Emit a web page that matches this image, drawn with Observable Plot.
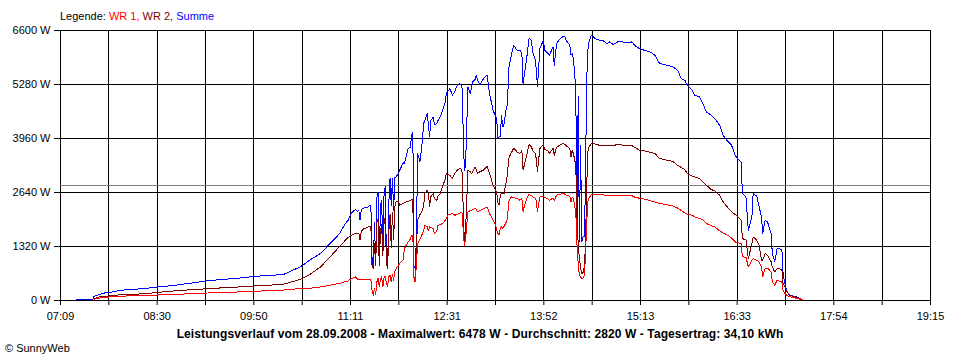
<!DOCTYPE html>
<html><head><meta charset="utf-8">
<script src="https://cdn.jsdelivr.net/npm/d3@7"></script>
<script src="https://cdn.jsdelivr.net/npm/@observablehq/plot@0.6"></script>
<style>
body{margin:0;background:#fff;}
#wrap{position:relative;width:960px;height:360px;font-family:"Liberation Sans",Arial,sans-serif;font-size:11px;color:#000;}
.ov{position:absolute;white-space:nowrap;line-height:13px;}
#chart{position:absolute;left:0;top:0;}
</style></head><body>
<div id="wrap">
<div id="chart"></div>
<div class="ov" style="left:60px;top:10px">Legende: <span style="color:#ff0000">WR 1,</span> <span style="color:#800000">WR 2,</span> <span style="color:#0000ff">Summe</span></div>
<div class="ov" id="title" style="left:0;width:960px;text-align:center;top:328px;font-weight:bold;font-size:12px;letter-spacing:0.1px"></div>
<div class="ov" style="left:5px;top:342px">© SunnyWeb</div>
</div>
<script>
// time of day in minutes since midnight
const minuteOfDay = [442,456,457,462,466,471,479,496,504,521,529,554,579,587,596,615,629,637,646,654,662,666,669,672,675,677,678,679,680,682,685,687,688,689,690,691,692,693,694,695,696,697,698,699,700,701,702,703,704,705,706,707,708,709,711,712,715,716,719,721,722,723,724,725,726,727,729,731,732,733,735,736,737,738,740,741,743,744,746,748,750,751,752,754,756,758,760,762,764,766,767,769,771,772,773,775,776,777,779,782,785,787,790,792,793,794,795,796,797,798,799,801,802,803,805,807,808,810,812,813,814,815,816,818,820,822,823,825,826,827,829,832,833,836,837,840,841,843,846,848,850,851,854,855,856,857,859,860,861,862,863,864,865,866,867,868,869,870,872,876,879,882,885,887,890,894,898,902,906,908,912,916,921,925,929,935,940,944,947,950,952,956,958,962,965,968,972,975,979,982,985,989,992,994,997,998,1001,1003,1006,1007,1010,1012,1014,1015,1017,1019,1022,1023,1025,1027,1031,1032,1034,1035,1037,1040,1043,1048];
const wr1 = [null,null,30,60,75,90,105,122,128,146,155,186,210,222,232,255,293,300,330,374,420,455,480,540,577,520,515,513,515,515,513,513,500,250,130,300,150,450,550,350,500,580,330,560,600,400,350,580,620,450,640,500,700,782,863,900,1000,1271,1433,1500,1596,1600,540,450,900,1393,1500,1637,1700,1840,1800,1700,1800,1780,1760,1637,1700,1840,1860,1882,1962,2000,2085,2100,2126,2085,2100,2130,2166,1352,1500,2166,2200,2207,2220,2248,2230,2166,2200,2248,2288,2126,1962,1850,1718,1640,1596,1760,1800,1760,1800,1921,2000,2410,2532,2520,2510,2493,2451,2480,2493,2166,2300,2493,2590,2560,2540,2500,2451,2166,2532,2550,2520,2480,2451,2500,2440,2573,2600,2614,2600,2573,2550,2400,2532,2493,2166,1352,900,618,580,537,550,600,1026,1840,2410,2500,2590,2600,2580,2580,2573,2573,2570,2573,2573,2573,2560,2530,2500,2480,2440,2410,2371,2340,2310,2260,2200,2142,2110,2085,2050,2004,1980,1882,1830,1800,1702,1650,1610,1530,1433,1410,1393,1066,1060,821,985,1020,985,940,820,577,782,790,700,455,374,496,455,252,150,130,100,73,50,20];
const wr2 = [null,null,50,90,105,112,140,161,180,227,245,293,333,350,360,398,513,635,821,1066,1327,1450,1540,1600,1637,1650,1650,1474,1700,1750,1784,1816,1816,820,790,1400,850,1900,2000,850,1700,1850,1100,1900,2050,900,800,1700,2100,1300,2150,1500,2300,2410,2410,2330,2370,2400,2420,2450,2468,2460,560,540,1300,1962,2100,2207,2300,2614,2695,2600,2300,2532,2614,2500,2450,2550,2614,2818,2950,3104,3080,3060,2981,3100,3185,3226,3200,1433,1700,3185,3150,3104,3150,3266,3200,3104,3150,3185,3283,3104,2818,2700,2655,2400,2329,2550,2650,2614,2600,2899,3104,3471,3600,3715,3700,3632,3593,3620,3673,3185,3300,3551,3812,3750,3673,3600,3471,3143,3715,3812,3700,3650,3593,3720,3551,3750,3800,3837,3820,3780,3720,3500,3673,3593,3306,2004,1400,1026,800,660,680,800,1271,2655,3632,3750,3837,3820,3790,3780,3790,3790,3780,3820,3800,3795,3780,3750,3673,3660,3620,3593,3471,3429,3400,3306,3250,3200,3104,3040,3021,2981,2900,2818,2713,2679,2573,2410,2300,2166,2100,2060,1962,1515,1480,1026,1400,1555,1474,1352,985,985,1149,1100,950,821,699,782,760,415,300,210,150,105,80,20];
const summe = [25,30,105,150,185,200,250,285,310,360,390,490,550,577,600,635,820,985,1150,1393,1637,1850,1962,2150,2224,2180,2200,1962,2230,2260,2273,2329,2330,1000,800,1900,900,2500,2655,1000,2300,2450,1200,2600,2777,985,790,2400,2980,2330,2980,2200,3000,3021,3104,3185,3364,3348,3700,3754,4040,4120,850,800,1500,3593,3400,3900,4326,4400,4570,4300,4000,4400,4488,4300,4326,4400,4500,4651,4850,5059,5100,5181,5018,5100,5262,5303,5250,3185,3300,5221,5059,5200,5343,5400,5506,5400,5262,5425,5506,5059,4651,4500,4448,3960,3999,3999,4529,4243,4285,4700,4773,5670,5950,6240,6200,6118,6118,6100,6037,5303,5500,5914,6403,6362,6077,5900,5670,5221,6158,6362,6118,6037,5996,6199,5751,6281,6403,6443,6443,6362,6240,5996,6037,5914,5181,1600,5000,1450,3800,1433,1555,1555,2655,5262,6100,6321,6484,6386,6362,6345,6281,6321,6260,6321,6321,6300,6321,6240,6158,6118,6077,5996,5792,5751,5710,5629,5425,5384,5262,5140,5018,4977,4815,4610,4529,4448,4285,4040,3918,3796,3551,3471,3388,2614,2532,1718,2050,2614,2550,2288,2043,1637,1962,1921,1637,1149,944,1271,1250,660,332,250,130,110,88,24];

const yTicks = [0,1320,2640,3960,5280,6600];
const xTickLabels = ["07:09","08:30","09:50","11:11","12:31","13:52","15:13","16:33","17:54","19:15"];
const xStart = 429, xEnd = 1155;   // 07:09 .. 19:15
const average = 2820;
const titleText = "Leistungsverlauf vom 28.09.2008 - Maximalwert: 6478 W - Durchschnitt: 2820 W - Tagesertrag: 34,10 kWh";

document.getElementById("title").textContent = titleText;

const rows = minuteOfDay.map((t, i) => ({t, wr1: wr1[i], wr2: wr2[i], summe: summe[i]}));
const step = (xEnd - xStart) / 18;
const xTicks = d3.range(19).map(i => xStart + i * step);

const chart = Plot.plot({
  width: 960, height: 360,
  marginLeft: 60, marginRight: 30, marginTop: 30, marginBottom: 60,
  x: {domain: [xStart, xEnd], label: null},
  y: {domain: [0, 6600], label: null},
  style: {fontFamily: "'Liberation Sans', Arial, sans-serif", fontSize: "11px", color: "#000", background: "transparent"},
  marks: [
    Plot.ruleX(xTicks, {stroke: "#000", strokeWidth: 1, shapeRendering: "crispEdges"}),
    Plot.ruleY(yTicks, {stroke: "#000", strokeWidth: 1, shapeRendering: "crispEdges"}),
    Plot.ruleY([average], {stroke: "#808080", strokeWidth: 1, shapeRendering: "crispEdges"}),
    Plot.line(rows, {x: "t", y: "summe", stroke: "#0000ff", strokeWidth: 1, shapeRendering: "crispEdges"}),
    Plot.line(rows, {x: "t", y: "wr2", stroke: "#800000", strokeWidth: 1, shapeRendering: "crispEdges"}),
    Plot.line(rows, {x: "t", y: "wr1", stroke: "#ff0000", strokeWidth: 1, shapeRendering: "crispEdges"}),
    Plot.axisX({ticks: xTicks, tickSize: 5, tickPadding: 7, label: null, stroke: "#000", strokeOpacity: 1,
      tickFormat: d => { const i = Math.round((d - xStart) / step); return i % 2 === 0 ? xTickLabels[i / 2] : ""; }}),
    Plot.axisY({ticks: yTicks, tickSize: 6, tickPadding: 4, label: null, stroke: "#000", strokeOpacity: 1,
      tickFormat: d => d + " W"})
  ]
});
document.getElementById("chart").appendChild(chart);
</script>
</body></html>
